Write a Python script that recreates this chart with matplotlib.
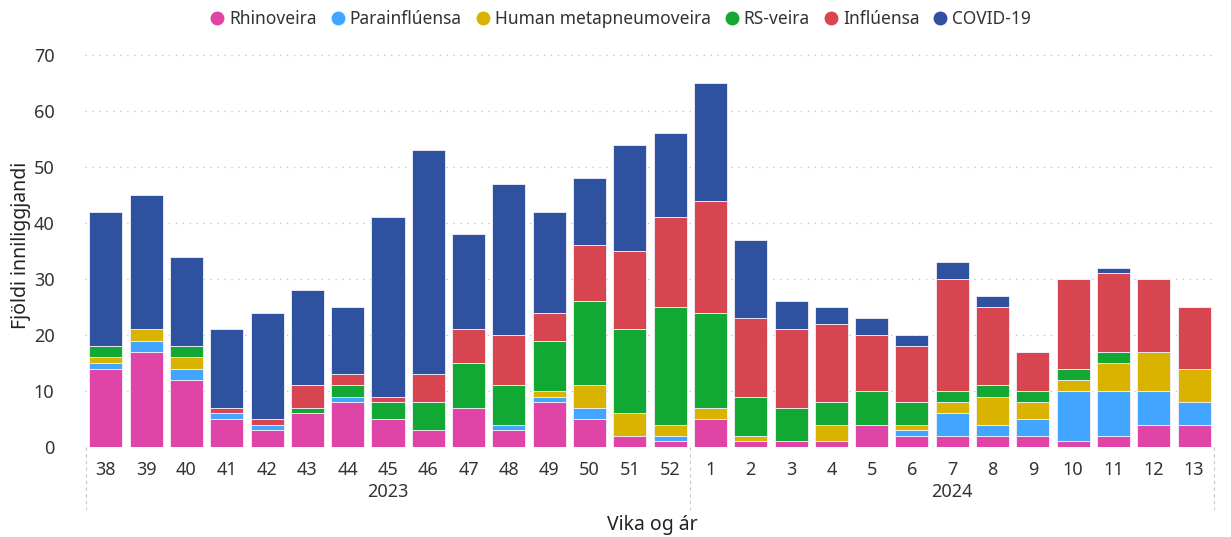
import matplotlib
matplotlib.use("Agg")
import matplotlib.pyplot as plt
from matplotlib.lines import Line2D
import matplotlib.transforms as mtransforms
import numpy as np

plt.rcParams['font.family'] = ['Noto Sans', 'DejaVu Sans']

weeks = ["38", "39", "40", "41", "42", "43", "44", "45", "46", "47", "48", "49", "50", "51", "52",
         "1", "2", "3", "4", "5", "6", "7", "8", "9", "10", "11", "12", "13"]
years = ["2023", "2024"]
weeks_per_year = [15, 13]

series_names = ["Rhinoveira", "Parainflúensa", "Human metapneumoveira", "RS-veira", "Inflúensa", "COVID-19"]
colors = ["#E044A7", "#42A5FF", "#D9B300", "#11A834", "#D64550", "#2E52A0"]

rhino = [14, 17, 12, 5, 3, 6, 8, 5, 3, 7, 3, 8, 5, 2, 1,
         5, 1, 1, 1, 4, 2, 2, 2, 2, 1, 2, 4, 4]
para = [1, 2, 2, 1, 1, 0, 1, 0, 0, 0, 1, 1, 2, 0, 1,
        0, 0, 0, 0, 0, 1, 4, 2, 3, 9, 8, 6, 4]
hmpv = [1, 2, 2, 0, 0, 0, 0, 0, 0, 0, 0, 1, 4, 4, 2,
        2, 1, 0, 3, 0, 1, 2, 5, 3, 2, 5, 7, 6]
rsv = [2, 0, 2, 0, 0, 1, 2, 3, 5, 8, 7, 9, 15, 15, 21,
       17, 7, 6, 4, 6, 4, 2, 2, 2, 2, 2, 0, 0]
flu = [0, 0, 0, 1, 1, 4, 2, 1, 5, 6, 9, 5, 10, 14, 16,
       20, 14, 14, 14, 10, 10, 20, 14, 7, 16, 14, 13, 11]
covid = [24, 24, 16, 14, 19, 17, 12, 32, 40, 17, 27, 18, 12, 19, 15,
         21, 14, 5, 3, 3, 2, 3, 2, 0, 0, 1, 0, 0]

fig = plt.figure(figsize=(12.31, 5.37), dpi=100)
ax = fig.add_axes([0.069, 0.1676, 0.918, 0.7508])

x = np.arange(len(weeks))
bottom = np.zeros(len(weeks))
for name, vals, c in zip(series_names, [rhino, para, hmpv, rsv, flu, covid], colors):
    vals = np.array(vals, dtype=float)
    ax.bar(x, vals, 0.82, bottom=bottom, color=c, edgecolor="#f4f0fa", linewidth=0.6, zorder=3)
    bottom += vals

ax.set_xlim(-0.52, len(weeks) - 0.48)
ax.set_ylim(0, 72)
ax.set_yticks(np.arange(0, 71, 10))
ax.yaxis.grid(True, linestyle=(0, (1, 4)), color="#c8c8c8", linewidth=1)
ax.set_axisbelow(True)
for s in ax.spines.values():
    s.set_visible(False)
ax.tick_params(axis="both", length=0, labelsize=13, colors="#333333")
ax.tick_params(axis="y", pad=22)
ax.tick_params(axis="x", pad=10)
ax.set_xticks(x)
ax.set_xticklabels(weeks)
ax.set_ylabel("Fjöldi inniliggjandi", fontsize=14, color="#222222", labelpad=2)

# year level of the axis
trans = mtransforms.blended_transform_factory(ax.transData, ax.transAxes)
start = 0
edges = [-0.5]
for yr, n in zip(years, weeks_per_year):
    mid = start + (n - 1) / 2
    ax.text(mid, -0.112, yr, transform=trans, ha="center", va="center",
            fontsize=13, color="#333333")
    start += n
    edges.append(start - 0.5)
for e in edges:
    ax.plot([e, e], [0, -0.156], transform=trans, color="#c8c8c8",
            linestyle=(0, (3, 3)), linewidth=0.8, clip_on=False)

fig.text(0.53, 0.022, "Vika og ár", ha="center", va="center", fontsize=14, color="#222222")

handles = [Line2D([], [], marker="o", linestyle="", markersize=9, color=c) for c in colors]
fig.legend(handles, series_names, loc="center", bbox_to_anchor=(0.5, 0.965), ncol=6,
           frameon=False, fontsize=12.5, handletextpad=-0.3, columnspacing=0.2,
           labelcolor="#333333")

fig.savefig("out.png", dpi=100)
